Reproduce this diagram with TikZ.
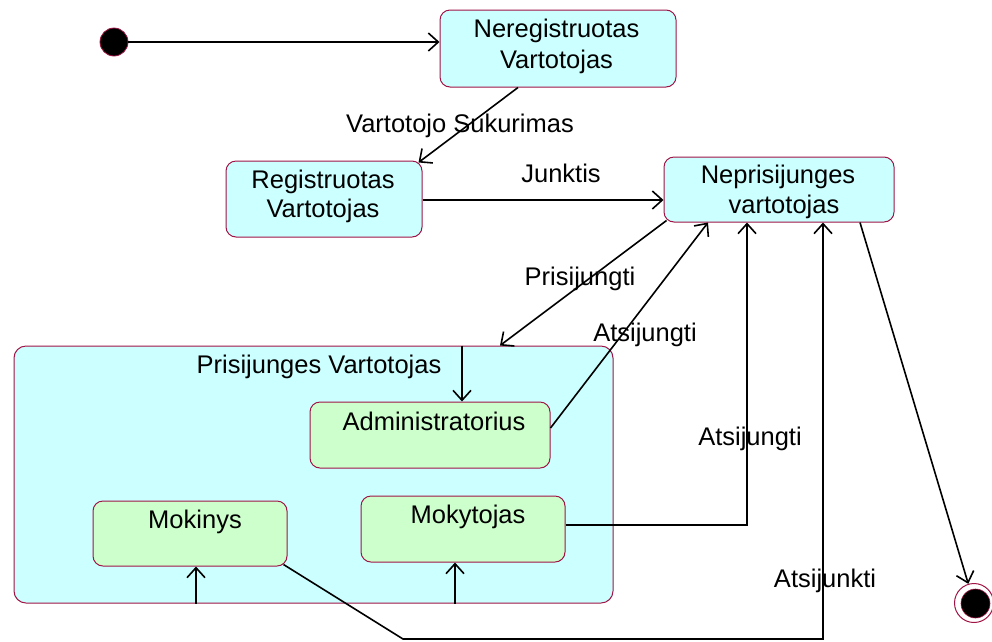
\documentclass[tikz,border=0pt]{standalone}
\usepackage{fontspec}
\setmainfont{Liberation Sans}
\usetikzlibrary{arrows.meta}
\definecolor{edgered}{RGB}{160,20,70}
\definecolor{statecyan}{RGB}{204,255,255}
\definecolor{substategreen}{RGB}{204,255,204}
\tikzset{
  statebox/.style={draw=edgered, line width=1pt, fill=statecyan, rounded corners=10pt,
    rectangle, inner sep=0pt},
  subbox/.style={statebox, fill=substategreen},
  txt/.style={anchor=base, inner sep=0pt, font=\fontsize{25.5pt}{31pt}\selectfont},
  arr/.style={line width=1.6pt, -{Straight Barb[length=10pt,width=18pt,line width=1.6pt]}},
  startdot/.style={circle, fill=black, draw=edgered, line width=0.8pt, minimum size=28pt, inner sep=0pt},
  endring/.style={circle, fill=white, draw=edgered, line width=1pt, minimum size=39pt, inner sep=0pt},
  enddot/.style={circle, fill=black, draw=edgered, line width=0.6pt, minimum size=29pt, inner sep=0pt},
}
\begin{document}
\begin{tikzpicture}[x=1pt, y=-1pt]
  \useasboundingbox (0,0) rectangle (992,641);

  % composite state and its sub-states
  \node[statebox, rounded corners=12pt, minimum width=599pt, minimum height=257pt] (pv) at (313.5,474.5) {};
  \node[subbox, minimum width=240pt, minimum height=66pt] (admin) at (430,435) {};
  \node[subbox, minimum width=194pt, minimum height=65pt] (mokinys) at (190,533.5) {};
  \node[subbox, minimum width=204pt, minimum height=66pt] (mokyt) at (463,529) {};

  % simple states
  \node[statebox, minimum width=236pt, minimum height=77pt] (nereg) at (558,48.5) {};
  \node[statebox, minimum width=196pt, minimum height=76pt] (reg) at (324,199) {};
  \node[statebox, minimum width=230pt, minimum height=65pt] (neprie) at (779,189.5) {};

  % initial and final pseudo-states
  \node[startdot] (init) at (114,42) {};
  \node[endring] (final) at (974,603) {};
  \node[enddot] (finaldot) at (975.5,603.5) {};

  % state names
  \node[txt] (t1a) at (556.5,37) {Neregistruotas};
  \node[txt] (t1b) at (556.5,68) {Vartotojas};
  \node[txt] (t2a) at (323,188) {Registruotas};
  \node[txt] (t2b) at (323,217) {Vartotojas};
  \node[txt] (t3a) at (778,183) {Neprisijunges};
  \node[txt] (t3b) at (784,213) {vartotojas};
  \node[txt] (t4) at (319,373) {Prisijunges Vartotojas};
  \node[txt] (t5) at (434,430) {Administratorius};
  \node[txt] (t6) at (195,528) {Mokinys};
  \node[txt] (t7) at (468,523) {Mokytojas};

  % transitions
  \draw[arr] (init.east) -- (init.east -| nereg.west);
  \draw[arr] ([xshift=-40pt]nereg.south) -- ([xshift=-4pt,yshift=-2pt]reg.north east);
  \draw[arr] ([yshift=-1pt]reg.east) -- ([yshift=-1pt]reg.east -| neprie.west);
  \draw[arr] ([xshift=3pt,yshift=2pt]neprie.south west) -- ([xshift=186.5pt]pv.north);
  \draw[arr] ([yshift=7pt]admin.east) -- ([xshift=-71pt]neprie.south);

  \coordinate (c6) at ([xshift=148.5pt]pv.north);
  \draw[arr] (c6) -- (c6 |- admin.north);

  \draw[arr] ([yshift=4pt]mokyt.east) -| ([xshift=-32pt]neprie.south);

  \coordinate (bend) at (403,639);
  \draw[arr] ([xshift=-4pt,yshift=2pt]mokinys.south east) -- (bend) -| ([xshift=44pt]neprie.south);

  \draw[arr] ([xshift=81pt]neprie.south) -- (final);

  \coordinate (c10) at ([xshift=-117.5pt]pv.south);
  \draw[arr] (c10) -- (c10 |- mokinys.south);
  \coordinate (c11) at ([xshift=141.5pt]pv.south);
  \draw[arr] (c11) -- (c11 |- mokyt.south);

  % transition labels
  \node[txt] (l1) at (460,132) {Vartotojo Sukurimas};
  \node[txt] (l2) at (561,182) {Junktis};
  \node[txt] (l3) at (580,285) {Prisijungti};
  \node[txt] (l4) at (645,341) {Atsijungti};
  \node[txt] (l5) at (750,445) {Atsijungti};
  \node[txt] (l6) at (825,587) {Atsijunkti};
\end{tikzpicture}
\end{document}
